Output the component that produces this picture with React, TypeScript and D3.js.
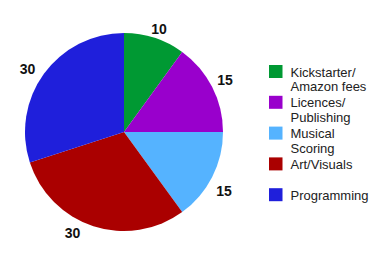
import React from "react";
import * as d3 from "d3";

const categories = ["Kickstarter/\nAmazon fees", "Licences/\nPublishing", "Musical\nScoring", "Art/Visuals", "Programming"];
const values = [10, 15, 15, 30, 30];
const colors = ["#009933", "#9900cc", "#55b3ff", "#aa0000", "#1f1fdb"];

// label placement nudges (degrees off the slice middle, radius of label centre)
const labelAngleNudge = [0.8, -0.2, 3.5, 9, -3];
const labelRadius = [108.5, 113.6, 116, 113.6, 115];

export default function App() {
  const W = 383, H = 260;
  const cx = 124, cy = 132, r = 99;
  const pie = d3.pie<number>().sort(null).value((d) => d)(values);
  const arc = d3.arc<d3.PieArcDatum<number>>().innerRadius(0).outerRadius(r);
  const legendY = d3.scaleLinear().domain([0, 1]).range([65, 95.8]);
  return (
    <svg width={W} height={H} style={{ position: "absolute", left: 0, top: 0, background: "#fff" }}
      fontFamily="Arial, 'Liberation Sans', sans-serif">
      <g transform={`translate(${cx},${cy})`}>
        {pie.map((p, i) => (
          <path key={i} d={arc(p) || ""} fill={colors[i]} />
        ))}
        {pie.map((p, i) => {
          const a = (p.startAngle + p.endAngle) / 2 + (labelAngleNudge[i] * Math.PI) / 180;
          const lr = labelRadius[i];
          const x = Math.sin(a) * lr;
          const y = -Math.cos(a) * lr;
          return (
            <text key={i} x={x} y={y + 5} textAnchor="middle" fontSize={14} fontWeight="bold" fill="#111">
              {values[i]}
            </text>
          );
        })}
      </g>
      {categories.map((c, i) => {
        const y0 = legendY(i);
        const lines = c.split("\n");
        return (
          <g key={i}>
            <rect x={269} y={y0} width={13.5} height={13} fill={colors[i]} />
            <text x={290.5} y={y0 + 11.5} fontSize={13} fill="#222">
              {lines.map((l, j) => (
                <tspan key={j} x={290.5} dy={j === 0 ? 0 : 14.4}>{l}</tspan>
              ))}
            </text>
          </g>
        );
      })}
    </svg>
  );
}
